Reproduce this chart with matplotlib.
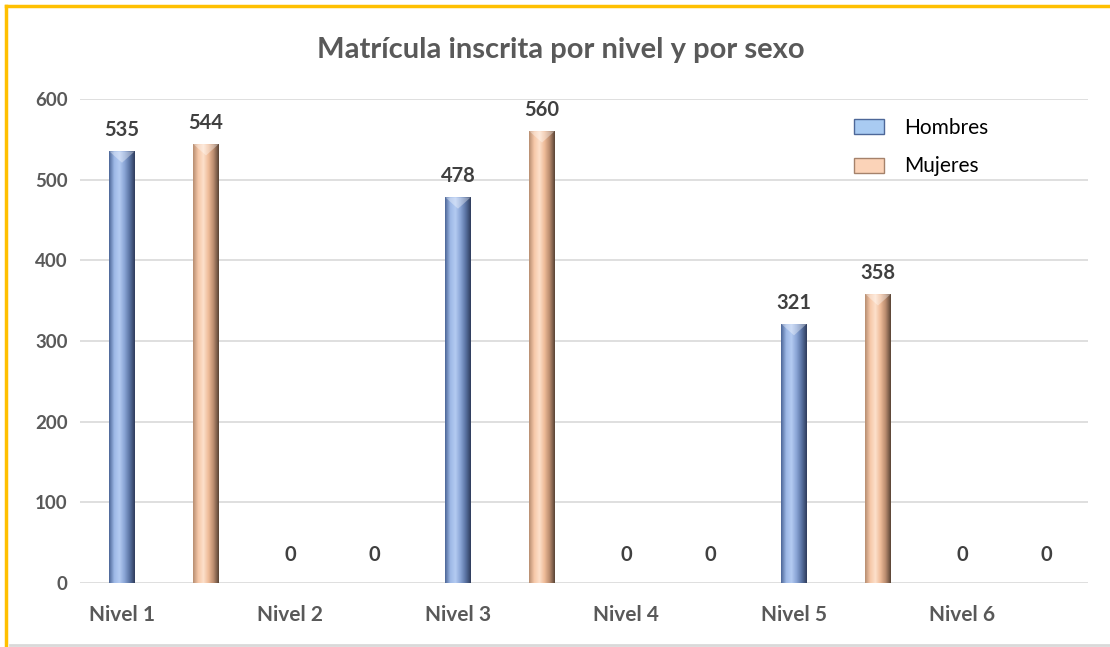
import numpy as np
from matplotlib import pyplot as plt
from matplotlib.lines import Line2D
from matplotlib.patches import Patch
from matplotlib.colors import LinearSegmentedColormap

plt.rcParams['font.family'] = ['Lato', 'DejaVu Sans']

## data

niveles = ['Nivel 1', 'Nivel 2', 'Nivel 3', 'Nivel 4', 'Nivel 5', 'Nivel 6']
hombres = [535, 0, 478, 0, 321, 0]
mujeres = [544, 0, 560, 0, 358, 0]

## figure and axes

fig = plt.figure(figsize=(11.1, 6.47), dpi=100)
ax = fig.add_axes([80/1110, 1-583/647, 1008/1110, 484/647])

x = np.arange(len(niveles))
w = 0.15

blue = LinearSegmentedColormap.from_list('b', ['#4d6798', '#9db8e6', '#b4cbf2', '#8aa5d6', '#5a73a3', '#2f3d5c'])
orange = LinearSegmentedColormap.from_list('o', ['#b88e72', '#f6c8a8', '#fde0cb', '#eebb98', '#b98b6e', '#5a4436'])
grad = np.linspace(0, 1, 100).reshape(1, -1)

def draw(xs, vals, cmap, lab):
	bars = ax.bar(xs, vals, w, color='none', edgecolor='none', label=lab, zorder=3)
	for b, v in zip(bars, vals):
		if v <= 0:
			continue
		im = ax.imshow(grad, cmap=cmap, aspect='auto', zorder=3,
			extent=[b.get_x(), b.get_x()+b.get_width(), 0, v])
		im.set_clip_path(b)
		# bevel at the top
		x0 = b.get_x(); x1 = x0 + b.get_width()
		ax.fill([x0, x1, x0 + b.get_width()/2], [v, v, v - 14], color='white', alpha=0.35, zorder=4, lw=0)
		ax.annotate(str(v), (b.get_x()+b.get_width()/2, v), xytext=(0, 8), textcoords='offset points',
			ha='center', va='bottom', fontsize=14.5, fontweight='bold', color='#404040')
	for b, v in zip(bars, vals):
		if v == 0:
			ax.annotate('0', (b.get_x()+b.get_width()/2, 0), xytext=(0, 13), textcoords='offset points',
				ha='center', va='bottom', fontsize=14.5, fontweight='bold', color='#404040')
	return bars

draw(x, hombres, blue, 'Hombres')
draw(x + 0.5, mujeres, orange, 'Mujeres')

ax.set_xlim(-0.25, 5.75)
ax.set_ylim(0, 600)
ax.set_yticks(range(0, 601, 100))
ax.set_xticks(x)
ax.set_xticklabels(niveles)
ax.tick_params(axis='x', length=0, labelsize=15, colors='#595959', pad=16)
ax.tick_params(axis='y', length=0, labelsize=13.5, colors='#595959', pad=9)
for t in ax.get_xticklabels() + ax.get_yticklabels():
	t.set_fontweight('bold')
ax.grid(axis='y', color='#d9d9d9', lw=1.2, zorder=0)
ax.set_axisbelow(True)
for s in ax.spines.values():
	s.set_visible(False)

handles = [Patch(facecolor='#a9cbf2', edgecolor='#4d6798', label='Hombres'),
	Patch(facecolor='#fbd3b8', edgecolor='#a5826b', label='Mujeres')]
ax.legend(handles=handles, loc='upper right', bbox_to_anchor=(0.92, 1.0), frameon=False,
	fontsize=15, labelspacing=0.9, handlelength=1.4, handleheight=0.75, handletextpad=1.0)

fig.text(0.505, 1-50/647, 'Matrícula inscrita por nivel y por sexo', ha='center', va='center',
	fontsize=21, fontweight='bold', color='#595959')

## frame

fig.add_artist(Line2D([6/1110, 6/1110], [0, 1-6/647], color='#ffc000', lw=2.5))
fig.add_artist(Line2D([6/1110, 1], [1-6/647, 1-6/647], color='#ffc000', lw=2.5))
fig.add_artist(Line2D([10/1110, 1], [2/647, 2/647], color='#d9d9d9', lw=2))

fig.savefig('out.png', dpi=100)
